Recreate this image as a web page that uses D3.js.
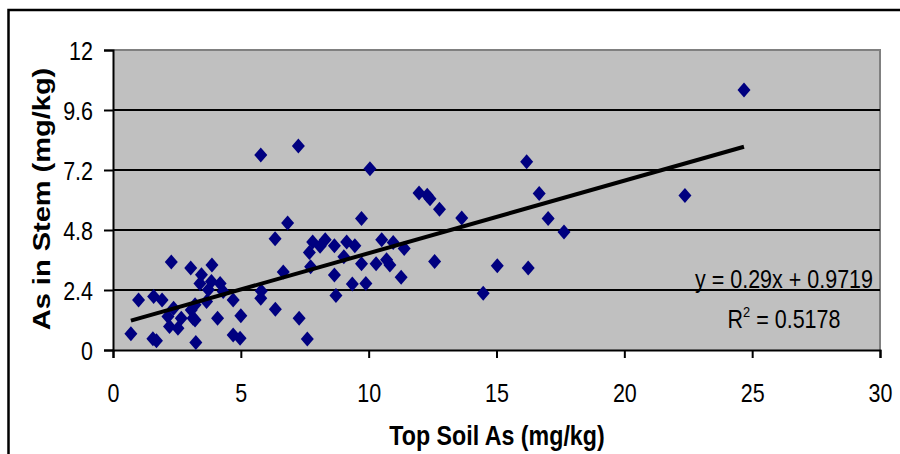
<!DOCTYPE html>
<html>
<head>
<meta charset="utf-8">
<script src="https://cdn.jsdelivr.net/npm/d3@7"></script>
<style>
  body { margin: 0; background: #fff; }
  text { font-family: "Liberation Sans", Arial, sans-serif; }
</style>
</head>
<body>
<svg id="chart" width="900" height="454"></svg>
<script>
// soil As vs stem As
var topSoil = [0.70, 1.00, 1.56, 1.70, 1.59, 1.92, 2.28, 2.37, 2.15, 2.21, 2.54, 2.67,
    3.04, 3.06, 3.13, 3.21, 3.21, 3.24, 3.46, 3.40, 3.87, 3.85, 3.73, 3.66, 4.19, 4.31,
    4.09, 4.70, 4.70, 4.97, 5.00, 5.78, 5.80, 5.78, 6.35, 6.34, 6.83, 6.66, 7.25, 7.28,
    7.60, 7.81, 7.68, 7.73, 8.10, 8.30, 8.66, 8.66, 8.72, 9.14, 9.46, 9.03, 9.36, 9.72,
    9.72, 9.89, 10.05, 10.29, 10.51, 10.70, 10.83, 10.96, 11.39, 11.27, 11.97, 12.29,
    12.40, 12.77, 12.58, 13.64, 14.48, 15.03, 16.18, 16.24, 16.67, 17.02, 17.64, 22.37, 24.68];
var stemAs = [0.65, 2.00, 0.45, 0.37, 2.14, 2.00, 3.52, 1.67, 1.34, 0.94, 0.87, 1.27,
    3.28, 1.60, 1.27, 1.81, 1.20, 0.30, 3.01, 2.66, 3.40, 2.74, 2.41, 1.94, 2.66, 2.34,
    1.27, 2.00, 0.60, 0.47, 1.37, 7.80, 2.36, 2.07, 1.63, 4.45, 5.08, 3.12, 8.16, 1.27,
    0.44, 4.32, 3.90, 3.33, 4.15, 4.41, 4.17, 3.00, 2.18, 4.32, 4.17, 3.73, 2.64, 5.26,
    3.45, 2.66, 7.25, 3.45, 4.41, 3.61, 3.40, 4.30, 4.06, 2.91, 6.28, 6.19,
    6.05, 5.63, 3.54, 5.28, 2.27, 3.37, 7.53, 3.28, 6.26, 5.26, 4.72, 6.18, 10.40];

var xTicks = [0, 5, 10, 15, 20, 25, 30];
var yTicks = [0, 2.4, 4.8, 7.2, 9.6, 12];
var slope = 0.29, intercept = 0.9719;
var eqLabel = "y = 0.29x + 0.9719";
var r2Value = "= 0.5178";

var SX = 0.86; // text in the picture is a bit squeezed horizontally
var plotL = 113, plotR = 880, plotT = 50, plotB = 350;

var svg = d3.select("#chart");

svg.append("rect")
    .attr("x", 8.5).attr("y", 10)
    .attr("width", 1000).attr("height", 1000)
    .attr("fill", "none")
    .attr("stroke", "#000")
    .attr("stroke-width", 2.5);

var x = d3.scaleLinear().domain([0, 30]).range([plotL, plotR]);
var y = d3.scaleLinear().domain([0, 12]).range([plotB, plotT]);

// plot area
svg.append("rect")
    .attr("x", plotL).attr("y", plotT)
    .attr("width", plotR - plotL).attr("height", plotB - plotT)
    .attr("fill", "#c0c0c0");
svg.append("path")
    .attr("d", "M" + plotL + "," + plotT + "H" + plotR + "V" + plotB)
    .attr("fill", "none")
    .attr("stroke", "#808080")
    .attr("stroke-width", 2);

svg.selectAll("line.grid").data(yTicks.filter(function(d) { return d > 0 && d < 12; }))
    .enter().append("line")
        .attr("class", "grid")
        .attr("x1", plotL).attr("x2", plotR)
        .attr("y1", function(d) { return y(d); })
        .attr("y2", function(d) { return y(d); })
        .attr("stroke", "#000")
        .attr("stroke-width", 2);

// axes
var xAxis = svg.append("g")
    .attr("transform", "translate(0," + plotB + ")")
    .call(d3.axisBottom(x).tickValues(xTicks).tickSizeOuter(0).tickSize(8).tickPadding(26));
var yAxis = svg.append("g")
    .attr("transform", "translate(" + plotL + ",0)")
    .call(d3.axisLeft(y).tickValues(yTicks).tickSizeOuter(0).tickSize(9)
        .tickFormat(function(d) { return String(d); }));

[xAxis, yAxis].forEach(function(ax) {
    ax.select(".domain").attr("stroke", "#000").attr("stroke-width", 2);
    ax.selectAll(".tick line").attr("stroke", "#000").attr("stroke-width", 2);
    ax.selectAll(".tick text")
        .attr("fill", "#000")
        .style("font-family", "'Liberation Sans', Arial, sans-serif")
        .style("font-size", "25px")
        .attr("transform", "scale(" + SX + ",1)");
});
yAxis.selectAll(".tick text").attr("x", -20 / SX).attr("dy", "0.36em");

// points
var pts = topSoil.map(function(d, i) { return [d, stemAs[i]]; });
svg.selectAll("path.pt").data(pts)
    .enter().append("path")
        .attr("class", "pt")
        .attr("d", "M0,-7.5L6.5,0L0,7.5L-6.5,0Z")
        .attr("fill", "#000080")
        .attr("transform", function(d) { return "translate(" + x(d[0]) + "," + y(d[1]) + ")"; });

// trend line across the data range
var xr = d3.extent(topSoil);
svg.append("line")
    .attr("x1", x(xr[0])).attr("y1", y(slope * xr[0] + intercept))
    .attr("x2", x(xr[1])).attr("y2", y(slope * xr[1] + intercept))
    .attr("stroke", "#000")
    .attr("stroke-width", 4);

// equation labels
svg.append("text")
    .attr("transform", "translate(784,288) scale(" + SX + ",1)")
    .attr("text-anchor", "middle")
    .style("font-size", "25px")
    .text(eqLabel);
var r2 = svg.append("text")
    .attr("transform", "translate(784,328) scale(" + SX + ",1)")
    .attr("text-anchor", "middle")
    .style("font-size", "25px");
r2.append("tspan").text("R");
r2.append("tspan").attr("dy", -11).style("font-size", "15px").text("2");
r2.append("tspan").attr("dy", 11).text(" " + r2Value);

// axis titles
svg.append("text")
    .attr("transform", "translate(497,445) scale(" + SX + ",1)")
    .attr("text-anchor", "middle")
    .style("font-size", "27px")
    .style("font-weight", "bold")
    .text("Top Soil As (mg/kg)");
svg.append("text")
    .attr("transform", "translate(50,199) rotate(-90) scale(1,0.8)")
    .attr("text-anchor", "middle")
    .style("font-size", "29px")
    .style("font-weight", "bold")
    .text("As in Stem (mg/kg)");
</script>
</body>
</html>
